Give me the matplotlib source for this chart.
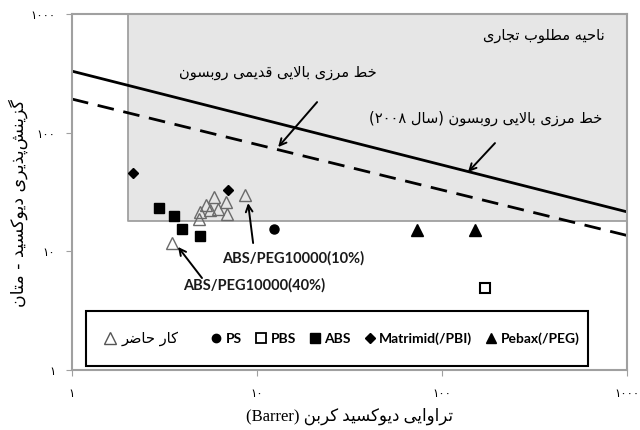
"""
CO2/CH4 Robeson plot (Persian labels)
"""

import matplotlib
matplotlib.use('Agg')
import matplotlib.pyplot as plt
from matplotlib.patches import Rectangle
from matplotlib.lines import Line2D

# data
ps_x = [12.4]
ps_y = [15.3]
pbs_x = [171]
pbs_y = [4.9]
abs_x = [2.94, 3.54, 3.93, 4.92]
abs_y = [23.3, 19.9, 15.3, 13.5]
matrimid_x = [2.14, 6.97]
matrimid_y = [46, 32.6]
pebax_x = [73.5, 151]
pebax_y = [15, 15]
work_x = [3.47, 4.86, 4.92, 5.28, 5.57, 5.88, 6.18, 6.78, 6.86, 8.6]
work_y = [11.8, 18.9, 21.5, 24.5, 22.2, 28.8, 22.9, 26.1, 20.8, 29.7]

robeson_1991_x = [1, 1000]
robeson_1991_y = [330, 21.5]
robeson_2008_x = [1, 1000]
robeson_2008_y = [192, 13.6]

region_x = [2, 1000]
region_y = [18, 1000]

ticks = [1, 10, 100, 1000]
tick_labels = ['۱', '۱۰', '۱۰۰', '۱۰۰۰']

legend_labels = ['PS', 'PBS', 'ABS', 'Matrimid(/PBI)', 'Pebax(/PEG)']


# --- minimal Persian shaping + right-to-left ordering (matplotlib does no shaping) ---
AR_FORMS = {
    # letter: (isolated, final, initial, medial)
    'ا': ('\ufe8d', '\ufe8e', None, None),
    'ب': ('\ufe8f', '\ufe90', '\ufe91', '\ufe92'),
    'پ': ('\ufb56', '\ufb57', '\ufb58', '\ufb59'),
    'ت': ('\ufe95', '\ufe96', '\ufe97', '\ufe98'),
    'ج': ('\ufe9d', '\ufe9e', '\ufe9f', '\ufea0'),
    'ح': ('\ufea1', '\ufea2', '\ufea3', '\ufea4'),
    'خ': ('\ufea5', '\ufea6', '\ufea7', '\ufea8'),
    'د': ('\ufea9', '\ufeaa', None, None),
    'ذ': ('\ufeab', '\ufeac', None, None),
    'ر': ('\ufead', '\ufeae', None, None),
    'ز': ('\ufeaf', '\ufeb0', None, None),
    'س': ('\ufeb1', '\ufeb2', '\ufeb3', '\ufeb4'),
    'ش': ('\ufeb5', '\ufeb6', '\ufeb7', '\ufeb8'),
    'ض': ('\ufebd', '\ufebe', '\ufebf', '\ufec0'),
    'ط': ('\ufec1', '\ufec2', '\ufec3', '\ufec4'),
    'ق': ('\ufed5', '\ufed6', '\ufed7', '\ufed8'),
    'ک': ('\ufb8e', '\ufb8f', '\ufb90', '\ufb91'),
    'گ': ('\ufb92', '\ufb93', '\ufb94', '\ufb95'),
    'ل': ('\ufedd', '\ufede', '\ufedf', '\ufee0'),
    'م': ('\ufee1', '\ufee2', '\ufee3', '\ufee4'),
    'ن': ('\ufee5', '\ufee6', '\ufee7', '\ufee8'),
    'و': ('\ufeed', '\ufeee', None, None),
    'ه': ('\ufee9', '\ufeea', '\ufeeb', '\ufeec'),
    'ی': ('\ufbfc', '\ufbfd', '\ufbfe', '\ufbff'),
}
LAM_ALEF = ('\ufefb', '\ufefc')
MIRROR = {'(': ')', ')': '('}


def shape(text):
    out = []
    i, n = 0, len(text)
    while i < n:
        c = text[i]
        if c not in AR_FORMS:
            if c != '\u200c':
                out.append(c)
            i += 1
            continue
        prev = text[i - 1] if i > 0 else ''
        joins_prev = prev in AR_FORMS and AR_FORMS[prev][2] is not None
        if c == 'ل' and i + 1 < n and text[i + 1] == 'ا':
            out.append(LAM_ALEF[1] if joins_prev else LAM_ALEF[0])
            i += 2
            continue
        nxt = text[i + 1] if i + 1 < n else ''
        joins_next = AR_FORMS[c][2] is not None and nxt in AR_FORMS
        iso, fin, ini, med = AR_FORMS[c]
        if joins_prev and joins_next:
            out.append(med)
        elif joins_prev:
            out.append(fin)
        elif joins_next:
            out.append(ini)
        else:
            out.append(iso)
        i += 1
    return ''.join(out)


def direction(c):
    if (c.isascii() and c.isalnum()) or '\u06f0' <= c <= '\u06f9':
        return 'L'
    if '\u0600' <= c <= '\u06ff' or '\ufb50' <= c <= '\ufeff':
        return 'R'
    return 'N'


def fa(text):
    s = shape(text)
    raw = [direction(c) for c in s]
    res = []
    for k, d in enumerate(raw):
        if d == 'N':
            before = next((raw[j] for j in range(k - 1, -1, -1) if raw[j] != 'N'), 'R')
            after = next((raw[j] for j in range(k + 1, len(s)) if raw[j] != 'N'), 'R')
            d = 'L' if before == after == 'L' else 'R'
        res.append(d)
    runs = []
    for c, d in zip(s, res):
        if runs and runs[-1][0] == d:
            runs[-1][1].append(c)
        else:
            runs.append((d, [c]))
    parts = []
    for d, chars in reversed(runs):
        if d == 'R':
            chars = [MIRROR.get(c, c) for c in reversed(chars)]
        parts.append(''.join(chars))
    return ''.join(parts)


FA_FONT = ['DejaVu Sans']
LAT_FONT = ['Lato', 'DejaVu Sans']

fig = plt.figure(figsize=(6.4, 4.3), dpi=100)
ax = fig.add_axes([0.1125, 0.1395, 0.8675, 0.8279])
ax.set_xscale('log')
ax.set_yscale('log')
ax.set_xlim(1, 1000)
ax.set_ylim(1, 1000)

# commercially attractive region
ax.fill_between(region_x, region_y[0], region_y[1], facecolor='#e6e6e6',
                edgecolor='#a0a0a0', linewidth=1.3, zorder=0)

# upper bounds
ax.plot(robeson_1991_x, robeson_1991_y, color='black', lw=2.0, zorder=2)
ax.plot(robeson_2008_x, robeson_2008_y, color='black', lw=2.0,
        dashes=(6, 3.5), zorder=2)

# literature data + this work
ax.plot(ps_x, ps_y, 'o', color='black', ms=6.5, zorder=3)
ax.plot(pbs_x, pbs_y, 's', mfc='white', mec='black', mew=1.5, ms=7, zorder=3)
ax.plot(abs_x, abs_y, 's', color='black', ms=7.5, zorder=3)
ax.plot(matrimid_x, matrimid_y, 'D', color='black', ms=5.5, zorder=3)
ax.plot(pebax_x, pebax_y, '^', color='black', ms=8, zorder=3)
ax.plot(work_x, work_y, '^', mfc='none', mec='#6a6a6a', mew=1.0, ms=9, zorder=3)

# labels in the region
ax.text(761, 664, fa('ناحیه مطلوب تجاری'), family=FA_FONT, fontsize=10.5,
        ha='right', va='center')
ax.text(12.9, 324, fa('خط مرزی بالایی قدیمی روبسون'), family=FA_FONT,
        fontsize=10.5, ha='center', va='center')
ax.text(733, 133, fa('خط مرزی بالایی روبسون (سال ۲۰۰۸)'), family=FA_FONT,
        fontsize=10.5, ha='right', va='center')

arrow = dict(arrowstyle='->', color='black', lw=1.4, mutation_scale=12,
             shrinkA=0, shrinkB=0)
ax.annotate('', xy=(13.0, 75.6), xytext=(21.1, 181), arrowprops=arrow)
ax.annotate('', xy=(138, 46.6), xytext=(193, 81.7), arrowprops=arrow)
ax.annotate('', xy=(8.94, 25.5), xytext=(9.52, 11.75), arrowprops=arrow)
ax.annotate('', xy=(3.74, 10.9), xytext=(5.04, 5.96), arrowprops=arrow)

ax.text(15.7, 8.78, 'ABS/PEG10000(10%)', family=LAT_FONT, weight='bold',
        fontsize=10.5, ha='center', va='center', color='#1a1a1a')
ax.text(9.7, 5.2, 'ABS/PEG10000(40%)', family=LAT_FONT, weight='bold',
        fontsize=10.5, ha='center', va='center', color='#1a1a1a')

# legend box
ax.add_patch(Rectangle((0.025, 0.011), 0.905, 0.155, transform=ax.transAxes,
                       facecolor='white', edgecolor='black', lw=1.5, zorder=4))

work_handle = Line2D([], [], ls='none', marker='^', mfc='none', mec='#555555',
                     mew=1.0, ms=8)
leg1 = ax.legend([work_handle], [fa('کار حاضر')], loc='center left',
                 bbox_to_anchor=(0.035, 0.088), frameon=False,
                 prop={'family': FA_FONT, 'size': 10.5},
                 handlelength=0.8, handletextpad=0.4)
leg1.set_zorder(5)
ax.add_artist(leg1)

handles = [
    Line2D([], [], ls='none', marker='o', color='black', ms=6),
    Line2D([], [], ls='none', marker='s', mfc='white', mec='black', mew=1.3, ms=7),
    Line2D([], [], ls='none', marker='s', color='black', ms=7),
    Line2D([], [], ls='none', marker='D', color='black', ms=5),
    Line2D([], [], ls='none', marker='^', color='black', ms=7),
]
leg2 = ax.legend(handles, legend_labels, loc='center right',
                 bbox_to_anchor=(0.937, 0.088), frameon=False, ncol=5,
                 prop={'family': LAT_FONT, 'weight': 'bold', 'size': 10},
                 handlelength=0.8, handletextpad=0.3, columnspacing=0.95)
leg2.set_zorder(5)

# axes styling
for side in ['left', 'right', 'top', 'bottom']:
    ax.spines[side].set_color('#a0a0a0')
    ax.spines[side].set_linewidth(1.5)
ax.minorticks_off()
ax.set_xticks(ticks)
ax.set_xticklabels(tick_labels)
ax.set_yticks(ticks)
ax.set_yticklabels(tick_labels)
ax.tick_params(direction='out', length=4, color='#a0a0a0', labelsize=8.5, pad=8)
for lbl in ax.get_xticklabels() + ax.get_yticklabels():
    lbl.set_family(FA_FONT)

ax.set_xlabel(fa('تراوایی دیوکسید کربن (Barrer)'),
              family=['Liberation Serif', 'DejaVu Sans'], fontsize=12, labelpad=6)
ax.set_ylabel(fa('گزینش\u200cپذیری دیوکسید - متان'), family=FA_FONT,
              fontsize=12.5)
ax.yaxis.set_label_coords(-0.08, 0.47)

fig.savefig('out.png', dpi=100)
